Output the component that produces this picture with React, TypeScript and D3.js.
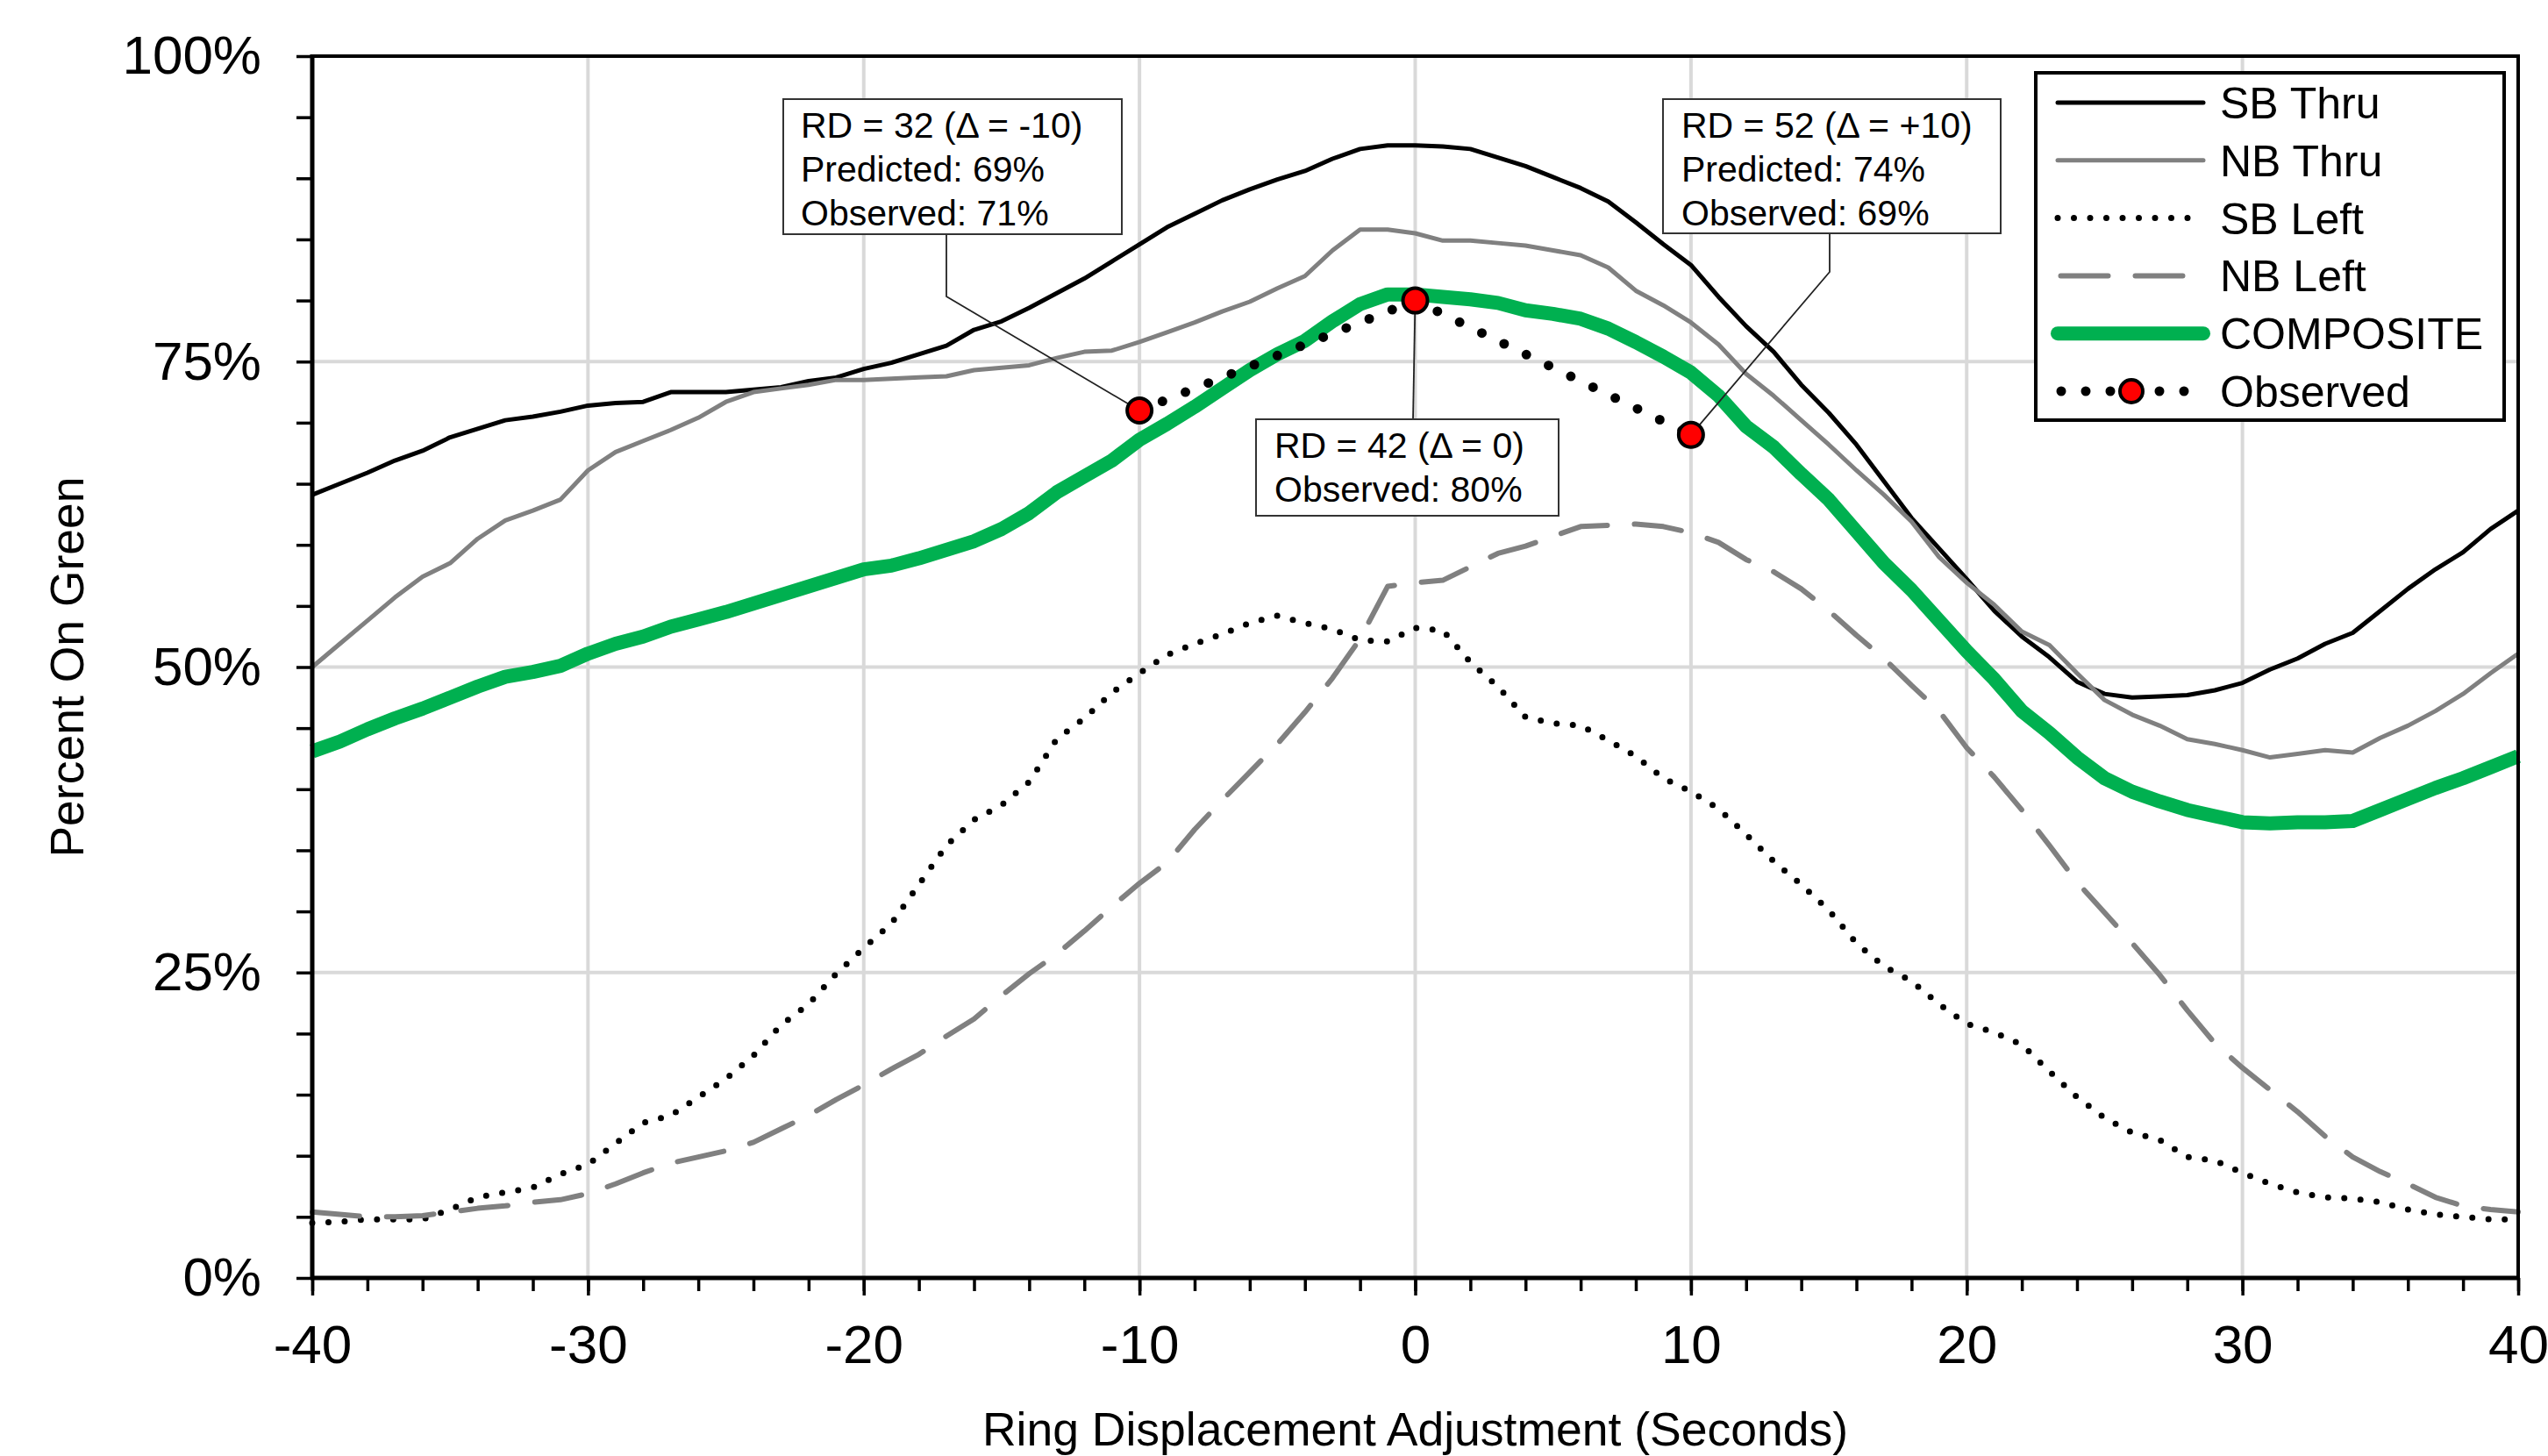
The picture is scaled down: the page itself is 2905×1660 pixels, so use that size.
import { useEffect, useRef } from 'react';
import * as d3 from 'd3';

// ring displacement adjustment, seconds (one sample per second)
const seconds = d3.range(-40, 41);

// percent on green at each second from -40 to 40
const sbThru = [
  64.1, 65.0, 65.9, 66.9, 67.7, 68.8, 69.5, 70.2, 70.5, 70.9,
  71.4, 71.6, 71.7, 72.5, 72.5, 72.5, 72.7, 72.9, 73.4, 73.7,
  74.4, 74.9, 75.6, 76.3, 77.6, 78.3, 79.4, 80.6, 81.8, 83.2,
  84.6, 86.0, 87.1, 88.2, 89.1, 89.9, 90.6, 91.6, 92.4, 92.7,
  92.7, 92.6, 92.4, 91.7, 91.0, 90.1, 89.2, 88.1, 86.4, 84.6,
  82.9, 80.3, 77.9, 75.8, 73.1, 70.8, 68.2, 65.2, 62.2, 59.7,
  57.2, 54.6, 52.5, 50.8, 48.8, 47.8, 47.5, 47.6, 47.7, 48.1,
  48.7, 49.8, 50.7, 51.9, 52.8, 54.6, 56.4, 58.0, 59.4, 61.3,
  62.8,
];
const nbThru = [
  50.0, 51.9, 53.8, 55.7, 57.4, 58.5, 60.5, 62.0, 62.8, 63.7,
  66.1, 67.6, 68.5, 69.4, 70.4, 71.7, 72.5, 72.8, 73.1, 73.5,
  73.5, 73.6, 73.7, 73.8, 74.3, 74.5, 74.7, 75.3, 75.8, 75.9,
  76.6, 77.4, 78.2, 79.1, 79.9, 81.0, 82.0, 84.1, 85.8, 85.8,
  85.5, 84.9, 84.9, 84.7, 84.5, 84.1, 83.7, 82.7, 80.8, 79.6,
  78.2, 76.4, 74.0, 72.2, 70.2, 68.2, 66.1, 64.1, 61.9, 59.0,
  56.9, 55.1, 52.9, 51.8, 49.5, 47.3, 46.1, 45.2, 44.1, 43.7,
  43.2, 42.6, 42.9, 43.2, 43.0, 44.2, 45.2, 46.4, 47.8, 49.5,
  51.1,
];
const sbLeft = [
  4.5, 4.6, 4.8, 4.8, 4.8, 5.6, 6.6, 7.0, 7.4, 8.5,
  9.3, 11.0, 12.7, 13.3, 14.8, 16.3, 18.2, 20.7, 22.4, 24.9,
  27.0, 29.0, 32.2, 35.4, 37.5, 38.7, 40.6, 44.1, 45.8, 47.9,
  49.5, 51.0, 51.9, 52.7, 53.6, 54.2, 53.6, 53.1, 52.2, 52.1,
  53.2, 53.0, 50.4, 48.4, 45.9, 45.4, 45.2, 44.0, 42.7, 40.9,
  39.8, 38.4, 36.3, 34.1, 32.2, 30.1, 27.4, 25.5, 24.3, 22.4,
  20.8, 20.1, 19.1, 16.9, 14.8, 13.1, 11.9, 11.3, 9.9, 9.6,
  8.6, 7.7, 7.0, 6.6, 6.5, 6.2, 5.6, 5.2, 5.0, 4.8,
  4.8,
];
const nbLeft = [
  5.4, 5.2, 5.0, 5.0, 5.1, 5.4, 5.7, 5.9, 6.2, 6.4,
  6.9, 7.7, 8.6, 9.4, 9.9, 10.4, 11.1, 12.2, 13.3, 14.6,
  15.8, 17.1, 18.3, 19.8, 21.2, 23.1, 24.9, 26.5, 28.4, 30.4,
  32.3, 34.0, 36.7, 39.1, 41.4, 43.7, 46.3, 49.1, 52.3, 56.6,
  56.9, 57.1, 58.2, 59.3, 59.9, 60.7, 61.5, 61.6, 61.7, 61.5,
  61.0, 60.2, 58.8, 57.8, 56.4, 54.6, 52.6, 50.7, 48.5, 46.4,
  43.4, 41.0, 38.3, 35.4, 32.4, 29.9, 27.4, 24.8, 21.9, 19.2,
  17.2, 15.4, 13.6, 11.6, 9.9, 8.7, 7.7, 6.6, 5.9, 5.6,
  5.4,
];
const composite = [
  43.1, 43.9, 44.9, 45.8, 46.6, 47.5, 48.4, 49.2, 49.6, 50.1,
  51.1, 51.9, 52.5, 53.3, 53.9, 54.5, 55.2, 55.9, 56.6, 57.3,
  58.0, 58.3, 58.9, 59.6, 60.3, 61.3, 62.6, 64.3, 65.6, 66.9,
  68.6, 69.9, 71.3, 72.8, 74.3, 75.6, 76.7, 78.3, 79.7, 80.5,
  80.5, 80.3, 80.1, 79.8, 79.2, 78.9, 78.5, 77.7, 76.6, 75.4,
  74.1, 72.2, 69.7, 68.0, 65.8, 63.7, 61.1, 58.5, 56.3, 53.8,
  51.3, 49.0, 46.4, 44.6, 42.6, 40.9, 39.8, 39.0, 38.3, 37.8,
  37.3, 37.2, 37.3, 37.3, 37.4, 38.3, 39.2, 40.1, 40.9, 41.8,
  42.7,
];

const observedX = [-10, 0, 10];
const observedY = [71, 80, 69];

const seriesNames = ['SB Thru', 'NB Thru', 'SB Left', 'NB Left', 'COMPOSITE', 'Observed'];
const xTicks = [-40, -30, -20, -10, 0, 10, 20, 30, 40];
const yTicks = [0, 25, 50, 75, 100];

const calloutText = [
  ['RD = 32 (\u0394 = -10)', 'Predicted: 69%', 'Observed: 71%'],
  ['RD = 52 (\u0394 = +10)', 'Predicted: 74%', 'Observed: 69%'],
  ['RD = 42 (\u0394 = 0)', 'Observed: 80%'],
];

const W = 2905;
const H = 1660;
const font = '"Liberation Sans", Arial, Helvetica, sans-serif';
const GRAY = '#808080';
const GREEN = '#00B050';

const x = d3.scaleLinear().domain([-40, 40]).range([356, 2871]);
const y = d3.scaleLinear().domain([0, 100]).range([1457, 64]);

const styles = [
  { stroke: '#000', width: 5, dash: null, cap: 'butt' },
  { stroke: GRAY, width: 5, dash: null, cap: 'butt' },
  { stroke: '#000', width: 7, dash: '0 18.5', cap: 'round' },
  { stroke: GRAY, width: 6, dash: '54 31', cap: 'round' },
  { stroke: GREEN, width: 16, dash: null, cap: 'butt' },
];

const App = () => {
  const xAxisRef = useRef<SVGGElement>(null);
  const yAxisRef = useRef<SVGGElement>(null);

  const line = d3.line<number>().x((_, i) => x(seconds[i])).y((d) => y(d));
  const obsLine = d3.line<number>().x((_, i) => x(observedX[i])).y((d) => y(d));
  const allSeries = [sbThru, nbThru, sbLeft, nbLeft, composite];

  useEffect(() => {
    const gx = d3.select(xAxisRef.current);
    gx.selectAll('*').remove();
    // minor ticks every 2 s
    gx.append('g').call(
      d3.axisBottom(x).tickValues(d3.range(-40, 41, 2)).tickSize(15).tickFormat(() => '')
    );
    gx.append('g').call(
      d3.axisBottom(x).tickValues(xTicks).tickSize(20).tickPadding(33).tickFormat((d) => String(d))
    );
    gx.selectAll('.domain').remove();
    gx.selectAll('.tick line').attr('stroke', '#000').attr('stroke-width', 3.5);
    gx.selectAll('text')
      .attr('fill', '#000')
      .style('font-size', '62px')
      .style('font-family', font);

    const gy = d3.select(yAxisRef.current);
    gy.selectAll('*').remove();
    gy.call(
      d3.axisLeft(y)
        .tickValues(d3.range(0, 101, 5))
        .tickSize(18)
        .tickPadding(40)
        .tickFormat((d) => (yTicks.includes(+d) ? `${d}%` : ''))
    );
    gy.selectAll('.domain').remove();
    gy.selectAll('.tick line').attr('stroke', '#000').attr('stroke-width', 3.5);
    gy.selectAll('text')
      .attr('fill', '#000')
      .style('font-size', '62px')
      .style('font-family', font);
  }, []);

  const [x0, x1] = x.range();
  const [yb, yt] = y.range();

  // callout boxes (pixel layout) and where their leaders meet the observed markers
  const boxes = [
    { bx: 893, by: 113, bw: 386, bh: 154, tx: 913, leader: [[1079, 267], [1079, 338]] },
    { bx: 1896, by: 113, bw: 385, bh: 153, tx: 1917, leader: [[2086, 266], [2086, 310]] },
    { bx: 1432, by: 478, bw: 345, bh: 110, tx: 1453, leader: [[1611, 478]] },
  ];
  const markerIdx = [0, 2, 1];

  const legX = 2321;
  const legY = 83;
  const rowY = (i: number) => 117 + i * 65.8;

  return (
    <svg
      width={W}
      height={H}
      style={{ position: 'absolute', left: 0, top: 0, background: '#fff', display: 'block' }}
    >
      <rect x={0} y={0} width={W} height={H} fill="#fff" />

      {/* gridlines */}
      <g stroke="#d9d9d9" strokeWidth={4}>
        {xTicks.map((t) => (
          <line key={'gx' + t} x1={x(t)} x2={x(t)} y1={yt} y2={yb} />
        ))}
        {yTicks.map((t) => (
          <line key={'gy' + t} x1={x0} x2={x1} y1={y(t)} y2={y(t)} />
        ))}
      </g>

      {/* series */}
      {allSeries.map((s, i) => (
        <path
          key={seriesNames[i]}
          d={line(s) || ''}
          fill="none"
          stroke={styles[i].stroke}
          strokeWidth={styles[i].width}
          strokeDasharray={styles[i].dash || undefined}
          strokeLinecap={styles[i].cap as any}
          strokeLinejoin="round"
        />
      ))}

      {/* observed */}
      <path
        d={obsLine(observedY) || ''}
        fill="none"
        stroke="#000"
        strokeWidth={11}
        strokeDasharray="0 28.2"
        strokeLinecap="round"
      />

      {/* plot frame and axes */}
      <rect x={x0} y={yt} width={x1 - x0} height={yb - yt} fill="none" stroke="#000" strokeWidth={4} />
      <line x1={x0} x2={x0} y1={yt - 2} y2={yb + 2} stroke="#000" strokeWidth={5} />
      <line x1={x0 - 2} x2={x1 + 2} y1={yb} y2={yb} stroke="#000" strokeWidth={5} />
      <g ref={xAxisRef} transform={`translate(0,${yb})`} />
      <g ref={yAxisRef} transform={`translate(${x0},0)`} />

      {/* callouts */}
      {boxes.map((b, i) => {
        const mi = markerIdx[i];
        const pts = [...b.leader, [x(observedX[mi]), y(observedY[mi])]];
        return (
          <g key={'c' + i}>
            <polyline
              points={pts.map((p) => p.join(',')).join(' ')}
              fill="none"
              stroke="#222"
              strokeWidth={1.8}
            />
            <rect x={b.bx} y={b.by} width={b.bw} height={b.bh} fill="#fff" stroke="#333" strokeWidth={2} />
            {calloutText[i].map((t, j) => (
              <text
                key={j}
                x={b.tx}
                y={b.by + 44 + j * 50}
                fontSize={41}
                fontFamily={font}
                fill="#000"
              >
                {t}
              </text>
            ))}
          </g>
        );
      })}

      {/* observed markers */}
      {observedX.map((ox, i) => (
        <circle key={'m' + ox} cx={x(ox)} cy={y(observedY[i])} r={14} fill="#ff0000" stroke="#000" strokeWidth={4} />
      ))}

      {/* axis titles */}
      <text
        x={(x0 + x1) / 2}
        y={1648}
        textAnchor="middle"
        fontSize={53.5}
        fontFamily={font}
        fill="#000"
      >
        Ring Displacement Adjustment (Seconds)
      </text>
      <text
        transform={`translate(95,${(yt + yb) / 2}) rotate(-90)`}
        textAnchor="middle"
        fontSize={53.5}
        fontFamily={font}
        fill="#000"
      >
        Percent On Green
      </text>

      {/* legend */}
      <g>
        <rect x={legX} y={legY} width={534} height={396} fill="#fff" stroke="#000" strokeWidth={4} />
        {seriesNames.map((name, i) => {
          const cy = rowY(i);
          const st = styles[i];
          return (
            <g key={'l' + name}>
              {i < 5 ? (
                <line
                  x1={i === 3 ? 2349.5 : 2346}
                  x2={i === 3 ? 2489 : 2512}
                  y1={cy}
                  y2={cy}
                  stroke={st.stroke}
                  strokeWidth={st.width}
                  strokeDasharray={st.dash || undefined}
                  strokeLinecap="round"
                />
              ) : (
                <g>
                  <line
                    x1={2350}
                    x2={2510}
                    y1={cy}
                    y2={cy}
                    stroke="#000"
                    strokeWidth={11}
                    strokeDasharray="0 28"
                    strokeLinecap="round"
                  />
                  <circle cx={2430} cy={cy} r={13} fill="#ff0000" stroke="#000" strokeWidth={4} />
                </g>
              )}
              <text x={2531} y={cy + 18} fontSize={50} fontFamily={font} fill="#000">
                {name}
              </text>
            </g>
          );
        })}
      </g>
    </svg>
  );
};

export default App;
